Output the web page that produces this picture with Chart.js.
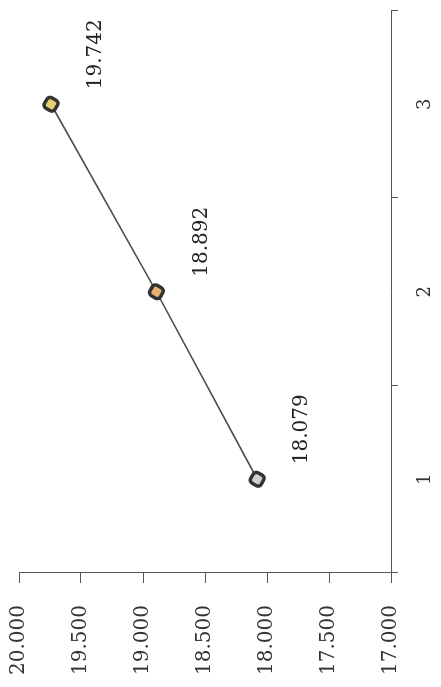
<!DOCTYPE html>
<html>
<head>
<meta charset="utf-8">
<script src="https://cdn.jsdelivr.net/npm/chart.js@4"></script>
<style>
  html, body { margin:0; padding:0; background:#fff; width:441px; height:687px; overflow:hidden; }
  #wrap { position:absolute; left:0; top:0; width:687px; height:441px;
          transform-origin:0 0; transform:translate(0,687px) rotate(-90deg); }
</style>
</head>
<body>
<div id="wrap"><canvas id="c" width="687" height="441"></canvas></div>
<script>
// ---- data ----
const categories = ['1', '2', '3'];
const values = [18.079, 18.892, 19.742];
const yTicks = [17.0, 17.5, 18.0, 18.5, 19.0, 19.5, 20.0];

const FONT = '"DejaVu Serif", "Liberation Serif", serif';

const valueLabels = {
  id: 'valueLabels',
  afterDatasetsDraw(chart) {
    const ctx = chart.ctx;
    const meta = chart.getDatasetMeta(0);
    ctx.save();
    ctx.font = '20px ' + FONT;
    ctx.fillStyle = '#222';
    ctx.textAlign = 'center';
    ctx.textBaseline = 'middle';
    meta.data.forEach((pt, i) => {
      ctx.fillText(values[i].toFixed(3), pt.x + 50, pt.y + 45);
    });
    ctx.restore();
  }
};

new Chart(document.getElementById('c'), {
  type: 'line',
  data: {
    labels: categories,
    datasets: [{
      data: values,
      borderColor: '#4a4a4a',
      borderWidth: 1.6,
      pointStyle: 'rectRounded',
      pointRotation: 30,
      pointRadius: 7,
      pointBorderWidth: 3.5,
      pointBorderColor: '#333',
      pointBackgroundColor: ['#d0d0d0', '#e8b070', '#e8d070'],
      tension: 0
    }]
  },
  options: {
    responsive: false,
    animation: false,
    devicePixelRatio: 1,
    layout: { padding: { top: 19, right: -5, left: 0, bottom: 0 } },
    plugins: { legend: { display: false }, tooltip: { enabled: false } },
    scales: {
      x: {
        type: 'category',
        offset: true,
        grid: { offset: true, drawOnChartArea: false, drawTicks: true, tickLength: 7, color: '#555' },
        border: { display: true, color: '#555', width: 1 },
        ticks: { font: { family: FONT, size: 18 }, color: '#333', padding: 17 },
        afterFit(scale) { scale.height = 50; scale.paddingLeft = 0; scale.paddingRight = 0; }
      },
      y: {
        min: 17, max: 20,
        afterBuildTicks(scale) { scale.ticks = yTicks.map(v => ({ value: v })); },
        grid: { drawOnChartArea: false, drawTicks: true, tickLength: 10, color: '#555' },
        border: { display: true, color: '#555', width: 1 },
        ticks: { font: { family: FONT, size: 20 }, color: '#333', padding: 22,
                 callback: v => Number(v).toFixed(3) },
        afterFit(scale) { scale.width = 114; scale.paddingTop = 0; scale.paddingBottom = 0; }
      }
    }
  },
  plugins: [valueLabels]
});
</script>
</body>
</html>
